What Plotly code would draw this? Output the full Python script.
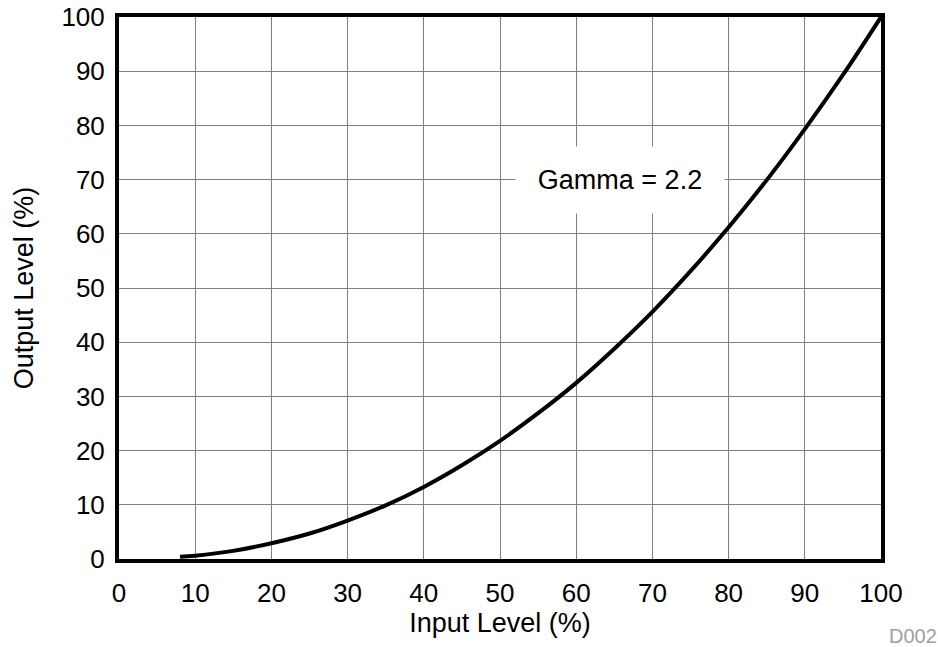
import plotly.graph_objects as go

# Values
input_level = [8, 10, 15, 20, 25, 30, 35, 40, 45, 50, 55, 60, 65, 70, 75, 80, 85, 90, 95, 100]
output_level = [0.4, 0.6, 1.5, 2.9, 4.7, 7.1, 9.9, 13.3, 17.3, 21.8, 26.9, 32.5, 38.8, 45.6, 53.1, 61.2, 69.9, 79.3, 89.3, 100]

x_ticks = [0, 10, 20, 30, 40, 50, 60, 70, 80, 90, 100]
y_ticks = [0, 10, 20, 30, 40, 50, 60, 70, 80, 90, 100]

font_family = "Liberation Sans, Arial, Helvetica, sans-serif"

fig = go.Figure()
fig.add_trace(go.Scatter(
    x=input_level, y=output_level, mode="lines",
    line=dict(color="black", width=4, shape="spline"),
    showlegend=False, hoverinfo="skip",
))

fig.add_annotation(
    x=65.7, y=70, xref="x", yref="y", text="Gamma = 2.2", showarrow=False,
    font=dict(family=font_family, size=27, color="black"),
    bgcolor="white", borderpad=0, width=208, height=66,
)

fig.add_annotation(
    x=1.0, y=0, xref="paper", yref="paper", xanchor="left", yanchor="top",
    xshift=6, yshift=-64,
    text="D002", showarrow=False,
    font=dict(family=font_family, size=20, color="#a0a0a0"),
)

axis_common = dict(
    range=[0, 100], showgrid=True, gridcolor="#808080", gridwidth=1,
    showline=True, linecolor="black", linewidth=4, mirror=True,
    zeroline=False, ticks="", tickfont=dict(family=font_family, size=26, color="black"),
    title_font=dict(family=font_family, size=27, color="black"),
)

fig.update_xaxes(tickvals=x_ticks, ticktext=[str(v) for v in x_ticks],
                 title_text="Input Level (%)", title_standoff=2, ticklabelstandoff=8,
                 **axis_common)
fig.update_yaxes(tickvals=y_ticks, ticktext=[str(v) for v in y_ticks],
                 title_text="Output Level (%)", title_standoff=21, ticklabelstandoff=5,
                 **axis_common)

fig.update_layout(
    width=938, height=647,
    margin=dict(l=119, r=57, t=17, b=88, autoexpand=False),
    plot_bgcolor="white", paper_bgcolor="white",
    font=dict(family=font_family),
)

fig.write_html("out.html", config={"displayModeBar": False},
               post_script="document.body.style.margin='0';")
